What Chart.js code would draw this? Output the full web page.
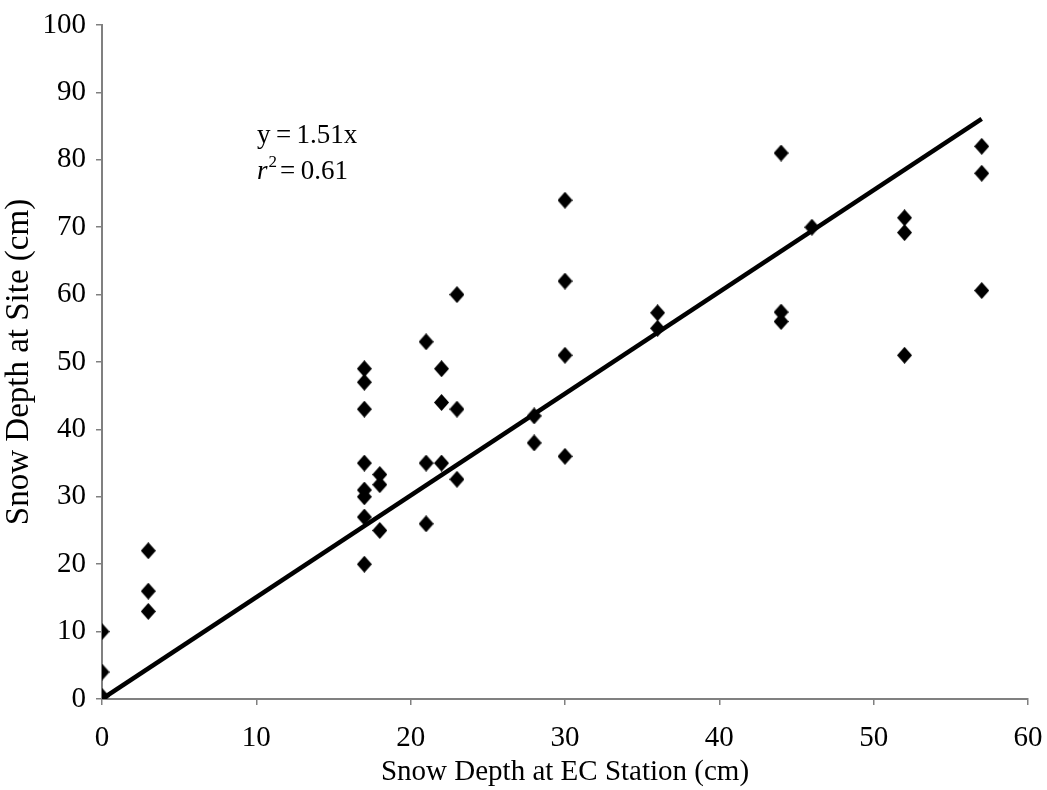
<!DOCTYPE html>
<html>
<head>
<meta charset="utf-8">
<title>Snow depth: site vs EC station</title>
<script src="https://cdn.jsdelivr.net/npm/chart.js@4.4.1/dist/chart.umd.min.js"></script>
<style>
  html, body { margin: 0; padding: 0; background: #fff; }
  canvas { display: block; }
</style>
</head>
<body>
<canvas id="snow" width="1047" height="790"></canvas>
<script>
// Snow depth at the EC station (cm) and the matching depth measured at the site (cm)
const stationDepth = [
  0, 0, 0,
  3, 3, 3,
  17, 17, 17, 17, 17, 17, 17, 17,
  18, 18, 18,
  21, 21, 21,
  22, 22, 22,
  23, 23, 23,
  28, 28,
  30, 30, 30, 30,
  36, 36,
  44, 44, 44,
  46,
  52, 52, 52,
  57, 57, 57
];
const siteDepth = [
  10, 4, 0.4,
  22, 16, 13,
  49, 47, 43, 35, 31, 30, 27, 20,
  33.3, 31.8, 25,
  53, 35, 26,
  49, 44, 35,
  60, 43, 32.6,
  42, 38,
  74, 62, 51, 36,
  57.3, 55,
  81, 57.4, 56,
  70,
  71.4, 69.2, 51,
  82, 78, 60.6
];

// regression through the origin
const fitSlope = 1.51;
const fitR2 = 0.61;
const fitXRange = [0, 57];

const xAxisRange = [0, 60];
const yAxisRange = [0, 100];
const tickStep = 10;

const serif = '"Liberation Serif", "Times New Roman", serif';
const axisGrey = '#808080';

const scatterPoints = stationDepth.map((x, i) => ({ x, y: siteDepth[i] }));
const fitPoints = fitXRange.map((x) => ({ x, y: fitSlope * x }));

// filled diamond marker, a little taller than wide
const diamond = (() => {
  const w = 15, h = 17;
  const c = document.createElement('canvas');
  c.width = w; c.height = h;
  const g = c.getContext('2d');
  g.fillStyle = '#000';
  g.beginPath();
  g.moveTo(w / 2, 0);
  g.lineTo(w, h / 2);
  g.lineTo(w / 2, h);
  g.lineTo(0, h / 2);
  g.closePath();
  g.fill();
  return c;
})();

// equation and r² written inside the plot
const fitLabel = {
  id: 'fitLabel',
  afterDraw(chart) {
    const ctx = chart.ctx;
    const left = 257;
    const thin = '\u2009';
    ctx.save();
    ctx.fillStyle = '#000';
    ctx.textBaseline = 'middle';
    ctx.textAlign = 'left';
    ctx.font = '27px ' + serif;
    ctx.fillText('y' + thin + '=' + thin + fitSlope.toFixed(2) + 'x', left, 136);

    let x = left;
    ctx.font = 'italic 27px ' + serif;
    ctx.fillText('r', x, 172);
    x += ctx.measureText('r').width + 1;
    ctx.font = '17px ' + serif;
    ctx.fillText('2', x, 163);
    x += ctx.measureText('2').width + 3;
    ctx.font = '27px ' + serif;
    ctx.fillText('=' + thin + fitR2.toFixed(2), x, 172);
    ctx.restore();
  }
};

new Chart(document.getElementById('snow'), {
  type: 'scatter',
  data: {
    datasets: [
      {
        label: 'Fit',
        type: 'line',
        data: fitPoints,
        borderColor: '#000',
        borderWidth: 4.5,
        pointRadius: 0,
        fill: false,
        order: 2
      },
      {
        label: 'Observed',
        data: scatterPoints,
        pointStyle: diamond,
        pointRadius: 8,
        pointHoverRadius: 8,
        backgroundColor: '#000',
        borderColor: '#000',
        borderWidth: 0,
        order: 1
      }
    ]
  },
  options: {
    responsive: false,
    animation: false,
    events: [],
    layout: { padding: { top: 25, right: 19, left: 0, bottom: 0 } },
    plugins: {
      legend: { display: false },
      tooltip: { enabled: false }
    },
    scales: {
      x: {
        type: 'linear',
        min: xAxisRange[0],
        max: xAxisRange[1],
        ticks: { stepSize: tickStep, color: '#000', padding: 16, font: { family: serif, size: 29 } },
        grid: { display: true, drawOnChartArea: false, drawTicks: true, tickLength: 6, color: axisGrey, lineWidth: 1.5 },
        border: { display: true, color: axisGrey, width: 2 },
        title: { display: true, text: 'Snow Depth at EC Station (cm)', color: '#000', font: { family: serif, size: 29 }, padding: { top: 0, bottom: 0 } },
        afterFit(scale) {
          scale.height = 91;
          scale.paddingLeft = 0;
          scale.paddingRight = 0;
        }
      },
      y: {
        type: 'linear',
        min: yAxisRange[0],
        max: yAxisRange[1],
        ticks: { stepSize: tickStep, color: '#000', padding: 10, font: { family: serif, size: 29 } },
        grid: { display: true, drawOnChartArea: false, drawTicks: true, tickLength: 6, color: axisGrey, lineWidth: 1.5 },
        border: { display: true, color: axisGrey, width: 2 },
        title: { display: true, text: 'Snow Depth at Site (cm)', color: '#000', font: { family: serif, size: 33 }, padding: { top: 0, bottom: 0 } },
        afterFit(scale) {
          scale.width = 102;
          scale.paddingTop = 0;
          scale.paddingBottom = 0;
        }
      }
    }
  },
  plugins: [fitLabel]
});
</script>
</body>
</html>
